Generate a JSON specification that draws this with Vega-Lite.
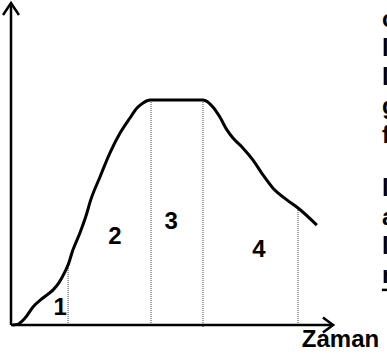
{
  "$schema": "https://vega.github.io/schema/vega-lite/v6.json",
  "width": 387,
  "height": 356,
  "padding": 0,
  "autosize": {"type": "none"},
  "config": {"view": {"stroke": null}},
  "datasets": {
    "curve": [
      {"t": 0.5, "n": 0}, {"t": 2.2, "n": 0.4}, {"t": 4.4, "n": 3.1}, {"t": 6.9, "n": 8.0},
      {"t": 10.0, "n": 12.0}, {"t": 13.2, "n": 15.6}, {"t": 15.0, "n": 18.7}, {"t": 16.9, "n": 23.6},
      {"t": 17.9, "n": 26.7}, {"t": 19.4, "n": 33.3}, {"t": 21.6, "n": 40.9}, {"t": 23.8, "n": 49.8},
      {"t": 24.8, "n": 54.7}, {"t": 27.9, "n": 65.8}, {"t": 31.0, "n": 76.4}, {"t": 34.2, "n": 85.3},
      {"t": 37.3, "n": 92.0}, {"t": 39.5, "n": 96.4}, {"t": 41.4, "n": 98.7}, {"t": 43.6, "n": 100},
      {"t": 60.2, "n": 100}, {"t": 63.3, "n": 96.9}, {"t": 65.5, "n": 92.4}, {"t": 67.7, "n": 86.7},
      {"t": 69.6, "n": 83.1}, {"t": 72.7, "n": 78.7}, {"t": 75.9, "n": 73.3}, {"t": 79.0, "n": 66.7},
      {"t": 82.1, "n": 60.9}, {"t": 86.5, "n": 55.6}, {"t": 90.0, "n": 52.0}, {"t": 95.9, "n": 44.4}
    ],
    "axes": [
      {"seg": "yaxis", "i": 0, "t": 0, "n": 0}, {"seg": "yaxis", "i": 1, "t": 0, "n": 143.1},
      {"seg": "yhead", "i": 0, "t": -2.5, "n": 137.8}, {"seg": "yhead", "i": 1, "t": 0, "n": 143.1}, {"seg": "yhead", "i": 2, "t": 2.5, "n": 137.8},
      {"seg": "xaxis", "i": 0, "t": 0, "n": 0}, {"seg": "xaxis", "i": 1, "t": 101, "n": 0},
      {"seg": "xhead", "i": 0, "t": 97.8, "n": 3.3}, {"seg": "xhead", "i": 1, "t": 101, "n": 0}, {"seg": "xhead", "i": 2, "t": 97.8, "n": -3.3},
      {"seg": "underline", "i": 0, "t": 116.3, "n": 15.6}, {"seg": "underline", "i": 1, "t": 119, "n": 15.6}
    ],
    "phases": [
      {"t": 17.9, "n": 0, "n2": 26.7},
      {"t": 43.9, "n": 0, "n2": 100},
      {"t": 60.2, "n": -0.9, "n2": 100},
      {"t": 90.0, "n": 0, "n2": 52}
    ],
    "labels": [
      {"t": 15.4, "n": 7.6, "label": "1"},
      {"t": 32.6, "n": 39.1, "label": "2"},
      {"t": 50.2, "n": 45.8, "label": "3"},
      {"t": 77.7, "n": 33.3, "label": "4"}
    ],
    "side": [
      {"t": 116.3, "n": 132.4, "txt": "c"},
      {"t": 116.3, "n": 119.6, "txt": "l"},
      {"t": 116.3, "n": 106.7, "txt": "l"},
      {"t": 116.3, "n": 93.8, "txt": "g"},
      {"t": 116.3, "n": 80.9, "txt": "f"},
      {"t": 116.3, "n": 57.3, "txt": "l"},
      {"t": 116.3, "n": 44.4, "txt": "a"},
      {"t": 116.3, "n": 31.6, "txt": "l"},
      {"t": 116.3, "n": 18.7, "txt": "r"},
      {"t": 91.2, "n": -9.8, "txt": "Zaman"}
    ]
  },
  "encoding": {
    "x": {"field": "t", "type": "quantitative", "scale": {"domain": [-3.45, 117.9], "nice": false, "zero": false}, "axis": null},
    "y": {"field": "n", "type": "quantitative", "scale": {"domain": [-13.78, 144.44], "nice": false, "zero": false}, "axis": null}
  },
  "layer": [
    {
      "data": {"name": "phases"},
      "mark": {"type": "rule", "color": "#444444", "strokeWidth": 1, "strokeDash": [1, 1]},
      "encoding": {"y2": {"field": "n2"}}
    },
    {
      "data": {"name": "axes"},
      "mark": {"type": "line", "color": "black", "strokeWidth": 2.5, "strokeJoin": "miter"},
      "encoding": {"detail": {"field": "seg"}, "order": {"field": "i"}}
    },
    {
      "data": {"name": "curve"},
      "mark": {"type": "line", "color": "black", "strokeWidth": 3, "interpolate": "monotone"},
      "encoding": {}
    },
    {
      "data": {"name": "labels"},
      "mark": {"type": "text", "font": "Liberation Sans", "fontWeight": "bold", "fontSize": 24, "align": "center", "baseline": "middle", "color": "black"},
      "encoding": {"text": {"field": "label"}}
    },
    {
      "data": {"name": "side"},
      "mark": {"type": "text", "font": "Liberation Sans", "fontWeight": "bold", "fontSize": 24, "align": "left", "baseline": "alphabetic", "color": "black"},
      "encoding": {"text": {"field": "txt"}}
    }
  ]
}
